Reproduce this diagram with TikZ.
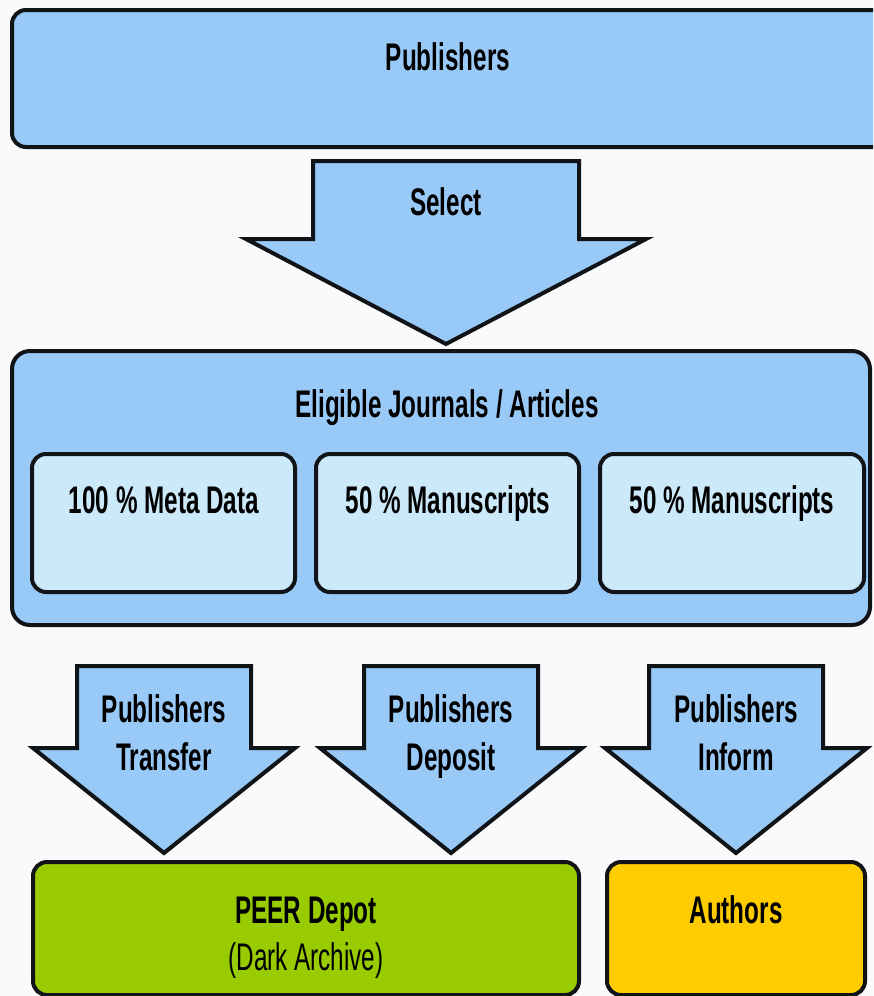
\documentclass[tikz,border=0pt]{standalone}
\usepackage{fontspec}
\setmainfont[FakeStretch=0.63]{Liberation Sans}
\definecolor{bgc}{HTML}{FAFAFA}
\definecolor{blu}{HTML}{99CAF7}
\definecolor{lblu}{HTML}{CCE9FA}
\definecolor{grn}{HTML}{99CC00}
\definecolor{yel}{HTML}{FFCC00}
\definecolor{edge}{HTML}{101418}
\newcommand\bigdownarrow[7]{% name, cx, top, shaft half, wing y, wing half, tip y
  \draw[arr] ({#2-#4},#3) coordinate (#1-tl) -- ({#2+#4},#3) coordinate (#1-tr)
    -- ({#2+#4},#5) -- ({#2+#6},#5) coordinate (#1-wr)
    -- (#2,#7) coordinate (#1-tip)
    -- ({#2-#6},#5) coordinate (#1-wl) -- ({#2-#4},#5) -- cycle;}
\begin{document}
\begin{tikzpicture}[x=1pt,y=-1pt,
  arr/.style={draw=edge,line width=4pt,line join=miter,fill=blu},
  boxb/.style={draw=edge,line width=4pt,rounded corners=14pt},
  txt/.style={anchor=base,inner sep=0pt,font=\fontsize{38.5}{48}\selectfont\bfseries},
  txtr/.style={anchor=base,inner sep=0pt,font=\fontsize{38.5}{48}\selectfont}]
\useasboundingbox (0,0) rectangle (873,996);
\clip (0,0) rectangle (873,996);
\fill[bgc] (0,0) rectangle (873,996);
% Publishers
\draw[boxb,fill=blu] (12,10) rectangle (895,147);
\node[txt] (pub) at (448,70) {Publishers};
% Select arrow
\bigdownarrow{sel}{446}{161}{133}{239}{200}{344}
\node[txt] (seltxt) at (446,215) {Select};
% Eligible box
\draw[boxb,fill=blu,rounded corners=18pt] (12,351) rectangle (870,625);
\node[txt] (elig) at (447,417) {Eligible Journals / Articles};
\draw[boxb,fill=lblu] (32,454) rectangle (295,592);
\draw[boxb,fill=lblu] (316,454) rectangle (579,592);
\draw[boxb,fill=lblu] (600,454) rectangle (864,592);
\node[txt] (meta) at (164,513) {100 \% Meta Data};
\node[txt] (man1) at (448,513) {50 \% Manuscripts};
\node[txt] (man2) at (732,513) {50 \% Manuscripts};
% bottom arrows
\bigdownarrow{a1}{164}{666}{87}{748}{131}{853}
\bigdownarrow{a2}{451}{666}{87}{748}{131}{853}
\bigdownarrow{a3}{736}{666}{87}{748}{131}{853}
\node[txt] (a1t1) at (164,722) {Publishers};
\node[txt] (a1t2) at (164,770) {Transfer};
\node[txt] (a2t1) at (451,722) {Publishers};
\node[txt] (a2t2) at (451,770) {Deposit};
\node[txt] (a3t1) at (736,722) {Publishers};
\node[txt] (a3t2) at (736,770) {Inform};
% bottom boxes
\draw[boxb,fill=grn] (33,862) rectangle (579,995);
\draw[boxb,fill=yel] (607,862) rectangle (865,995);
\node[txt] (peer) at (306,923) {PEER Depot};
\node[txtr] (dark) at (306,970) {(Dark Archive)};
\node[txt] (auth) at (736,923) {Authors};
\end{tikzpicture}
\end{document}
